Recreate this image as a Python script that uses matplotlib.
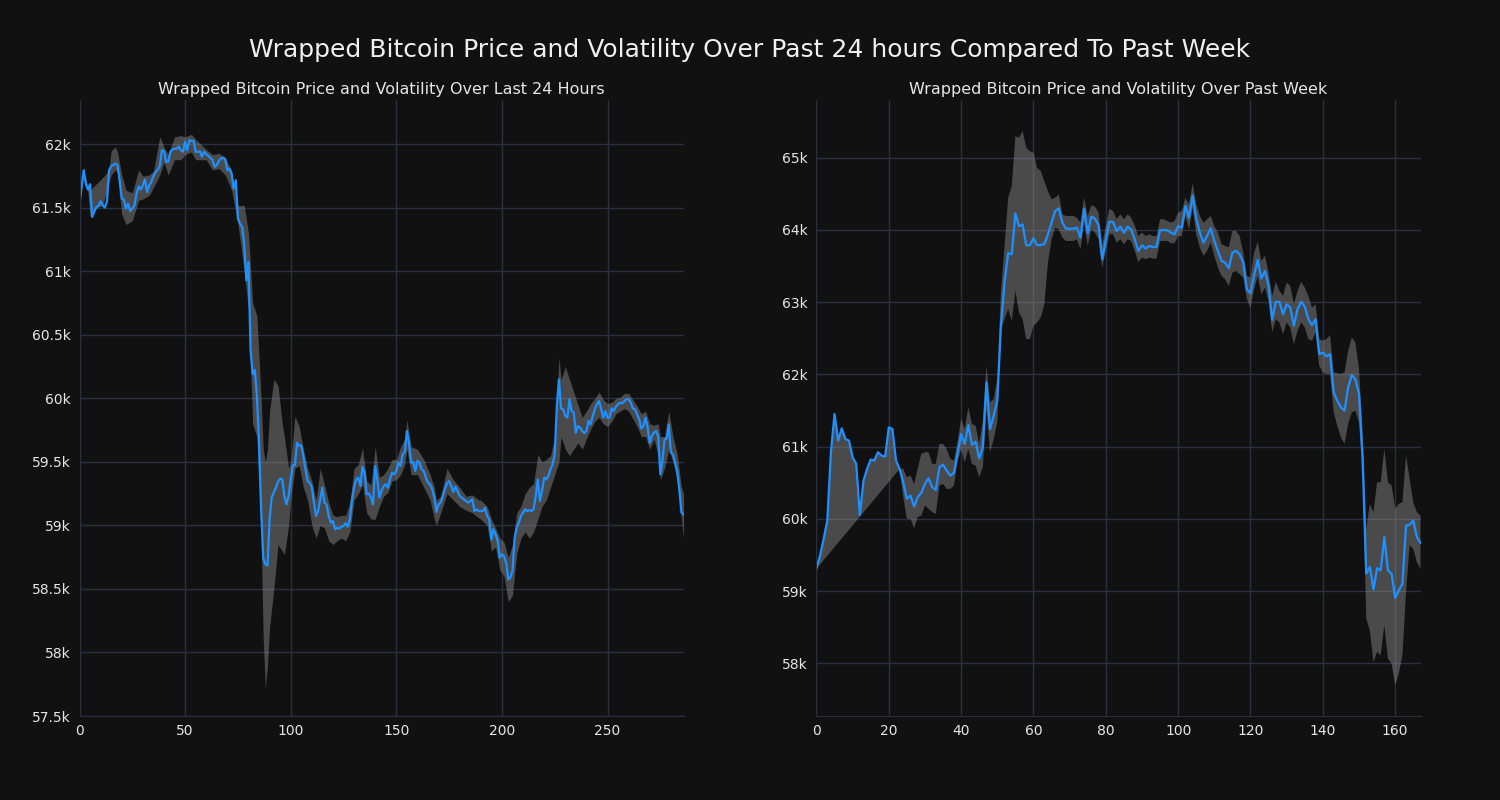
import numpy as np
import matplotlib
matplotlib.use("Agg")
import matplotlib.pyplot as plt
from matplotlib.ticker import FuncFormatter

# last 24 hours, 5 minute steps
day_price = [
    61534, 61666, 61797, 61690, 61645, 61687, 61429, 61470, 61508, 61516,
    61553, 61520, 61503, 61550, 61797, 61829, 61840, 61850, 61837, 61718,
    61574, 61566, 61495, 61534, 61476, 61495, 61520, 61613, 61671, 61645,
    61679, 61724, 61626, 61679, 61705, 61750, 61784, 61800, 61829, 61955,
    61947, 61863, 61863, 61942, 61960, 61965, 61968, 61982, 61955, 61942,
    62021, 61955, 62034, 62026, 62029, 61942, 61942, 61947, 61903, 61942,
    61924, 61910, 61895, 61876, 61824, 61837, 61871, 61890, 61895, 61882,
    61797, 61811, 61771, 61653, 61718, 61416, 61376, 61350, 61218, 60929,
    61074, 60376, 60192, 60224, 60020, 59650, 59127, 58746, 58694, 58686,
    59050, 59220, 59260, 59300, 59345, 59369, 59363, 59232, 59166, 59232,
    59363, 59474, 59474, 59652, 59626, 59631, 59547, 59442, 59350, 59337,
    59300, 59180, 59075, 59114, 59206, 59298, 59180, 59166, 59075, 59022,
    59035, 58970, 58983, 58975, 58991, 58996, 59017, 58991, 59050, 59200,
    59300, 59363, 59377, 59311, 59463, 59416, 59245, 59253, 59219, 59166,
    59468, 59363, 59219, 59271, 59311, 59324, 59298, 59363, 59416, 59403,
    59429, 59495, 59468, 59560, 59579, 59744, 59652, 59495, 59500, 59429,
    59508, 59495, 59442, 59429, 59377, 59337, 59324, 59285, 59219, 59106,
    59166, 59180, 59232, 59285, 59332, 59350, 59311, 59264, 59306, 59271,
    59232, 59219, 59206, 59193, 59180, 59193, 59206, 59114, 59127, 59114,
    59114, 59114, 59140, 59075, 59048, 58891, 58970, 58930, 58880, 58746,
    58773, 58760, 58707, 58576, 58589, 58640, 58900, 58983, 59022, 59075,
    59101, 59127, 59114, 59122, 59114, 59127, 59232, 59363, 59193, 59271,
    59377, 59363, 59390, 59442, 59482, 59560, 59941, 60151, 59920, 59915,
    59862, 59849, 59994, 59902, 59888, 59731, 59783, 59770, 59744, 59726,
    59744, 59823, 59796, 59862, 59915, 59954, 59980, 59915, 59849, 59900,
    59849, 59849, 59922, 59902, 59936, 59954, 59967, 59962, 59980, 59994,
    59994, 59967, 59922, 59915, 59875, 59836, 59762, 59783, 59849, 59770,
    59652, 59705, 59731, 59744, 59700, 59403, 59508, 59678, 59685, 59796,
    59573, 59560, 59495, 59429, 59285, 59101, 59088,
]

day_band_x = [
    0, 2, 4, 5, 8, 11, 14, 15, 17, 18, 20, 22, 25, 28, 30, 33, 35, 38, 40, 42,
    45, 48, 50, 53, 55, 60, 63, 66, 69, 72, 75, 78, 80, 82, 84, 86, 87, 88, 89, 90,
    92, 94, 96, 97, 99, 100, 102, 104, 106, 108, 110, 112, 114, 116, 118, 120, 122, 124, 126, 128,
    130, 132, 134, 136, 138, 140, 142, 144, 146, 148, 150, 152, 154, 155, 157, 160, 163, 166, 168, 169,
    171, 174, 177, 180, 183, 186, 189, 190, 193, 195, 197, 199, 201, 203, 205, 207, 209, 211, 213, 215,
    217, 219, 221, 223, 225, 227, 228, 230, 232, 234, 236, 238, 240, 242, 244, 246, 248, 250, 252, 254,
    256, 258, 260, 262, 264, 266, 268, 270, 272, 274, 275, 277, 279, 281, 283, 285, 286,
]
day_band_hi = [
    61560, 61800, 61670, 61640, 61690, 61740, 61800, 61950, 61980, 61940, 61760, 61640, 61620, 61800, 61750, 61760, 61790, 62060, 61980, 61920,
    62060, 62070, 62060, 62080, 62040, 61960, 61920, 61930, 61900, 61790, 61520, 61520, 61300, 60750, 60650, 60000, 59600, 59500, 59600, 59900,
    60150, 60100, 59800, 59700, 59450, 59500, 59860, 59780, 59600, 59450, 59350, 59200, 59450, 59320, 59180, 59080, 59070, 59080, 59080, 59180,
    59450, 59480, 59610, 59350, 59320, 59620, 59380, 59400, 59450, 59520, 59520, 59620, 59680, 59830, 59620, 59600, 59520, 59400, 59300, 59200,
    59230, 59450, 59360, 59300, 59230, 59240, 59200, 59200, 59150, 59050, 58980, 58900, 58870, 58750, 58850, 59100, 59150, 59250, 59300, 59330,
    59560, 59500, 59520, 59550, 59700, 60320, 60150, 60250, 60150, 60050, 59950, 59850, 59900, 59960, 60000, 60050, 59990, 59960, 59970, 60000,
    60010, 60040, 60040, 59990, 59940, 59880, 59900, 59800, 59790, 59800, 59700, 59700, 59900, 59700, 59560, 59300, 59250,
]
day_band_lo = [
    61530, 61770, 61620, 61440, 61500, 61520, 61700, 61760, 61800, 61780, 61450, 61370, 61400, 61560, 61570, 61600, 61660, 61760, 61860, 61760,
    61880, 61880, 61920, 61940, 61880, 61880, 61800, 61810, 61760, 61640, 61380, 61000, 60700, 59800, 59700, 58900, 58100, 57720, 57900, 58200,
    58500, 58850, 58800, 58770, 59000, 59200, 59450, 59470, 59300, 59200, 59000, 58900, 59000, 58980, 58880, 58850, 58880, 58900, 58880, 58950,
    59200, 59250, 59320, 59100, 59050, 59050, 59150, 59230, 59260, 59350, 59360, 59400, 59480, 59600, 59400, 59400, 59300, 59200, 59050, 59000,
    59100, 59250, 59200, 59150, 59120, 59100, 59060, 59050, 59000, 58800, 58830, 58650, 58600, 58400, 58450, 58780, 58900, 58950, 58900, 58950,
    59050, 59150, 59200, 59300, 59400, 59500, 59700, 59600, 59550, 59600, 59650, 59600, 59680, 59760, 59820, 59850, 59800, 59780, 59820, 59880,
    59900, 59920, 59900, 59840, 59780, 59700, 59700, 59600, 59680, 59550, 59360, 59450, 59600, 59500, 59350, 59050, 58900,
]

# past week, hourly
week_price = [
    59309, 59493, 59724, 59977, 60922, 61452, 61083, 61254, 61106, 61083,
    60853, 60761, 60055, 60530, 60691, 60821, 60807, 60922, 60876, 60862,
    61267, 61244, 60807, 60691, 60507, 60277, 60323, 60171, 60300, 60360,
    60484, 60562, 60438, 60401, 60714, 60751, 60668, 60599, 60636, 60899,
    61175, 61037, 61300, 61023, 61069, 60839, 60991, 61890, 61244, 61429,
    61636, 62673, 63272, 63677, 63664, 64230, 64050, 64078, 63788, 63788,
    63885, 63788, 63793, 63802, 63940, 64101, 64263, 64300, 64101, 64018,
    64018, 64018, 64032, 63894, 64295, 63954, 64184, 64157, 64065, 63595,
    63871, 64115, 64111, 63986, 64046, 63963, 64046, 64009, 63871, 63710,
    63788, 63742, 63779, 63765, 63765, 63995, 64000, 63995, 63963, 63940,
    64055, 64032, 64332, 64171, 64479, 64157, 63963, 63825, 63917, 64023,
    63848, 63710, 63572, 63548, 63470, 63687, 63710, 63664, 63548, 63180,
    63124, 63373, 63585, 63327, 63433, 63226, 62756, 63005, 63005, 62834,
    62972, 62926, 62673, 62903, 63005, 62940, 62765, 62682, 62765, 62281,
    62304, 62249, 62281, 61751, 61636, 61544, 61498, 61820, 61991, 61936,
    61728, 60830, 59240, 59332, 59023, 59318, 59286, 59747, 59286, 59240,
    58904, 59010, 59102, 59908, 59917, 59977, 59747, 59668,
]

# band edges from hour 23 on; before that the band runs from the line down to a straight edge
week_band_start = 23
week_band_hi = [
    60691, 60692, 60576, 60600, 60484, 60700, 60900, 60922, 60922, 60761,
    60761, 61037, 61037, 60968, 60830, 60807, 61060, 61383, 61244, 61544,
    61314, 61290, 61037, 61360, 62120, 61613, 61659, 61936, 63134, 63779,
    64447, 64608, 65300, 65276, 65369, 65138, 65092, 65069, 64862, 64816,
    64677, 64539, 64424, 64447, 64493, 64217, 64194, 64194, 64194, 64171,
    64101, 64447, 64194, 64341, 64323, 64240, 63802, 64055, 64295, 64263,
    64148, 64217, 64148, 64217, 64171, 64065, 63917, 63963, 63917, 63940,
    63917, 63917, 64148, 64148, 64124, 64101, 64124, 64240, 64263, 64447,
    64355, 64645, 64355, 64194, 64101, 64148, 64194, 64055, 63963, 63802,
    63779, 63760, 63986, 63986, 63917, 63687, 63364, 63341, 63687, 63834,
    63571, 63641, 63410, 63088, 63281, 63157, 63088, 63272, 63226, 62972,
    63157, 63281, 63203, 63088, 62926, 62972, 62489, 62466, 62489, 62544,
    62028, 62019, 62005, 62028, 62327, 62512, 62443, 62074, 61200, 59862,
    60207, 60092, 60507, 60507, 60968, 60507, 60461, 60138, 60207, 60231,
    60876, 60553, 60231, 60092, 60046,
]
week_band_lo = [
    60691, 60300, 60000, 60000, 59871, 60023, 60046, 60185, 60139, 60093,
    60069, 60461, 60484, 60415, 60415, 60461, 60784, 60968, 60784, 60968,
    60761, 60738, 60576, 60715, 61521, 60922, 61106, 61337, 62627, 62765,
    62903, 62742, 63157, 62857, 62765, 62489, 62489, 62673, 62719, 62788,
    62972, 63548, 63871, 64032, 64009, 63894, 63848, 63848, 63848, 63871,
    63733, 64101, 63779, 64009, 63963, 63871, 63479, 63710, 63940, 63940,
    63825, 63871, 63802, 63871, 63848, 63710, 63558, 63618, 63595, 63618,
    63604, 63604, 63848, 63848, 63848, 63816, 63816, 63917, 63910, 64194,
    64009, 64309, 63940, 63756, 63641, 63710, 63825, 63641, 63479, 63364,
    63318, 63226, 63410, 63433, 63387, 63341, 63042, 62926, 63180, 63364,
    63111, 63203, 63018, 62581, 62765, 62719, 62558, 62719, 62650, 62420,
    62604, 62719, 62650, 62489, 62466, 62581, 62120, 62028, 62005, 62005,
    61475, 61290, 61129, 61037, 61313, 61475, 61498, 61337, 60645, 58618,
    58457, 58019, 58157, 58111, 58526, 58065, 57996, 57696, 57857, 58111,
    58987, 59632, 59586, 59402, 59309,
]

bg = "#111111"
grid_col = "#283040"
line_col = "#1e90ff"
band_col = "#9a9a9a"

plt.rcParams["font.family"] = "DejaVu Sans"

fig, (ax1, ax2) = plt.subplots(1, 2, figsize=(15, 8), dpi=100)
fig.patch.set_facecolor(bg)
fig.subplots_adjust(left=0.053, right=0.947, top=0.875, bottom=0.105, wspace=0.22)


def kfmt(v, pos):
    if v % 1000 == 0:
        return "%dk" % (v / 1000)
    return "%.1fk" % (v / 1000)


def style(ax, title):
    ax.set_facecolor(bg)
    ax.grid(True, color=grid_col, linewidth=1)
    ax.set_axisbelow(True)
    for s in ["top", "right"]:
        ax.spines[s].set_visible(False)
    for s in ["left", "bottom"]:
        ax.spines[s].set_color(grid_col)
    ax.tick_params(colors="#e6e6e6", labelsize=10, length=0, pad=6)
    ax.yaxis.set_major_formatter(FuncFormatter(kfmt))
    ax.set_title(title, color="#e6e6e6", fontsize=11.5, pad=4)


# left: last 24 hours
x_day = np.arange(len(day_price))
ax1.fill_between(day_band_x, day_band_lo, day_band_hi, color=band_col, alpha=0.42, linewidth=0)
ax1.plot(x_day, day_price, color=line_col, linewidth=1.6)
ax1.set_xlim(0, len(day_price) - 1)
ax1.set_ylim(57500, 62350)
ax1.set_yticks(np.arange(57500, 62001, 500))
style(ax1, "Wrapped Bitcoin Price and Volatility Over Last 24 Hours")

# right: past week
x_week = np.arange(len(week_price))
xb = np.arange(week_band_start, len(week_price))
up_x = list(x_week[:week_band_start]) + list(xb)
up_y = list(week_price[:week_band_start]) + week_band_hi
lo_x = [0] + list(xb)
lo_y = [week_price[0]] + week_band_lo
ax2.fill(up_x + lo_x[::-1], up_y + lo_y[::-1], color=band_col, alpha=0.42, linewidth=0)
ax2.plot(x_week, week_price, color=line_col, linewidth=1.6)
ax2.set_xlim(0, len(week_price) - 1)
ax2.set_ylim(57270, 65800)
ax2.set_yticks(np.arange(58000, 65001, 1000))
style(ax2, "Wrapped Bitcoin Price and Volatility Over Past Week")

fig.suptitle("Wrapped Bitcoin Price and Volatility Over Past 24 hours Compared To Past Week",
             color="#f0f0f0", fontsize=18, y=0.952)

fig.savefig("out.png", facecolor=bg)
